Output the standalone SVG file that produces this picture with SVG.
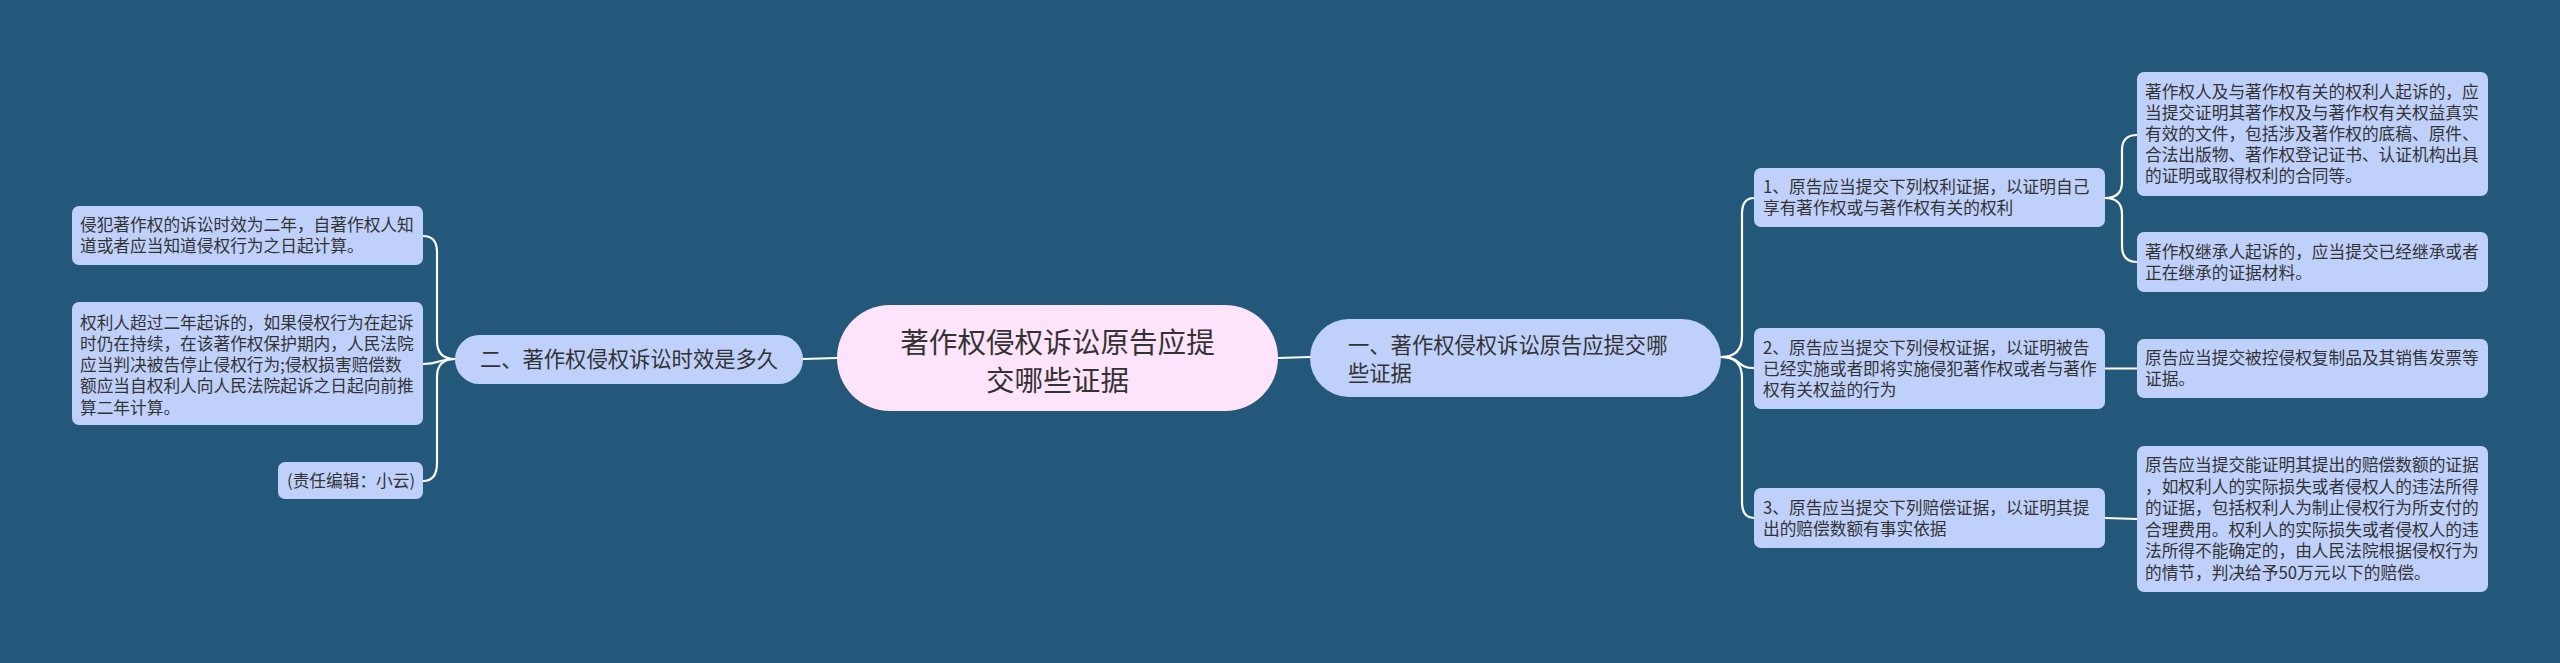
<svg xmlns="http://www.w3.org/2000/svg" width="2560" height="663" viewBox="0 0 2560 663">
<style>
.bg{fill:#24587a}
.leaf{fill:#bfd1fb}
.mid{fill:#bfd1fb}
.root{fill:#fde4fb}
text{font-family:"Noto Sans CJK SC","Noto Sans",sans-serif;fill:#333}
.t16{font-size:16.7px}
.t21{font-size:21.3px}
.t28{font-size:28.6px}
.conn path{fill:none;stroke:#ffffff;stroke-width:2.2;stroke-linecap:round}
</style>
<rect class="bg" x="0" y="0" width="2560" height="663"/>
<g id="connectors" class="conn">
<path d="M837 358 L803 359"/>
<path d="M1278 358 L1310 357"/>
<path d="M455 359 Q437 359 437 341 L437 252 Q437 236 423 236"/>
<path d="M455 359 C437 359 441 364 423 364"/>
<path d="M455 359 Q437 359 437 377 L437 463 Q437 481 423 481"/>
<path d="M1721 357 Q1742 357 1742 336 L1742 214 Q1742 198 1754 198"/>
<path d="M1721 357 C1742 357 1736 368 1754 368"/>
<path d="M1721 357 Q1742 357 1742 378 L1742 502 Q1742 518 1754 518"/>
<path d="M2105 198 Q2122 198 2122 182 L2122 150 Q2122 135 2137 135"/>
<path d="M2105 198 Q2122 198 2122 214 L2122 246 Q2122 262 2137 262"/>
<path d="M2105 368.5 L2137 368.5"/>
<path d="M2105 518 L2137 519"/>
</g>
<g id="root">
<rect class="root" x="837" y="305" width="441" height="106" rx="53"/>
<text class="t28" x="1057.5" y="352.5" text-anchor="middle">著作权侵权诉讼原告应提</text>
<text class="t28" x="1057.5" y="390.5" text-anchor="middle">交哪些证据</text>
</g>
<g id="n-left">
<rect class="mid" x="455" y="335" width="348" height="49" rx="24.5"/>
<text class="t21" x="629" y="367" text-anchor="middle">二、著作权侵权诉讼时效是多久</text>
</g>
<g id="n-right">
<rect class="mid" x="1310" y="319" width="411" height="78" rx="39"/>
<text class="t21" x="1348" y="353">一、著作权侵权诉讼原告应提交哪</text>
<text class="t21" x="1348" y="381">些证据</text>
</g>
<g id="l1">
<rect class="leaf" x="72" y="206" width="351" height="59" rx="7"/>
<text class="t16"><tspan x="80" y="231">侵犯著作权的诉讼时效为二年，自著作权人知</tspan><tspan x="80" y="252">道或者应当知道侵权行为之日起计算。</tspan></text>
</g>
<g id="l2">
<rect class="leaf" x="72" y="302" width="351" height="123" rx="7"/>
<text class="t16"><tspan x="80" y="328.5">权利人超过二年起诉的，如果侵权行为在起诉</tspan><tspan x="80" y="349.8">时仍在持续，在该著作权保护期内，人民法院</tspan><tspan x="80" y="371.1">应当判决被告停止侵权行为;侵权损害赔偿数</tspan><tspan x="80" y="392.4">额应当自权利人向人民法院起诉之日起向前推</tspan><tspan x="80" y="413.7">算二年计算。</tspan></text>
</g>
<g id="l3">
<rect class="leaf" x="278" y="462" width="145" height="37" rx="7"/>
<text class="t16" x="287" y="487">(责任编辑：小云)</text>
</g>
<g id="r1">
<rect class="leaf" x="1754" y="168" width="351" height="59" rx="7"/>
<text class="t16"><tspan x="1763" y="193">1、原告应当提交下列权利证据，以证明自己</tspan><tspan x="1763" y="214">享有著作权或与著作权有关的权利</tspan></text>
</g>
<g id="r1a">
<rect class="leaf" x="2137" y="72" width="351" height="124" rx="7"/>
<text class="t16"><tspan x="2145" y="98">著作权人及与著作权有关的权利人起诉的，应</tspan><tspan x="2145" y="119">当提交证明其著作权及与著作权有关权益真实</tspan><tspan x="2145" y="140">有效的文件，包括涉及著作权的底稿、原件、</tspan><tspan x="2145" y="161">合法出版物、著作权登记证书、认证机构出具</tspan><tspan x="2145" y="182">的证明或取得权利的合同等。</tspan></text>
</g>
<g id="r1b">
<rect class="leaf" x="2137" y="232" width="351" height="60" rx="7"/>
<text class="t16"><tspan x="2145" y="257.5">著作权继承人起诉的，应当提交已经继承或者</tspan><tspan x="2145" y="278.5">正在继承的证据材料。</tspan></text>
</g>
<g id="r2">
<rect class="leaf" x="1754" y="328" width="351" height="81" rx="7"/>
<text class="t16"><tspan x="1763" y="353.5">2、原告应当提交下列侵权证据，以证明被告</tspan><tspan x="1763" y="374.5">已经实施或者即将实施侵犯著作权或者与著作</tspan><tspan x="1763" y="395.5">权有关权益的行为</tspan></text>
</g>
<g id="r2a">
<rect class="leaf" x="2137" y="339" width="351" height="59" rx="7"/>
<text class="t16"><tspan x="2145" y="364">原告应当提交被控侵权复制品及其销售发票等</tspan><tspan x="2145" y="385">证据。</tspan></text>
</g>
<g id="r3">
<rect class="leaf" x="1754" y="488" width="351" height="60" rx="7"/>
<text class="t16"><tspan x="1763" y="513.5">3、原告应当提交下列赔偿证据，以证明其提</tspan><tspan x="1763" y="534.5">出的赔偿数额有事实依据</tspan></text>
</g>
<g id="r3a">
<rect class="leaf" x="2137" y="446" width="351" height="146" rx="7"/>
<text class="t16"><tspan x="2145" y="471">原告应当提交能证明其提出的赔偿数额的证据</tspan><tspan x="2145" y="492.6">，如权利人的实际损失或者侵权人的违法所得</tspan><tspan x="2145" y="514.2">的证据，包括权利人为制止侵权行为所支付的</tspan><tspan x="2145" y="535.8">合理费用。权利人的实际损失或者侵权人的违</tspan><tspan x="2145" y="557.4">法所得不能确定的，由人民法院根据侵权行为</tspan><tspan x="2145" y="579">的情节，判决给予50万元以下的赔偿。</tspan></text>
</g>
</svg>
